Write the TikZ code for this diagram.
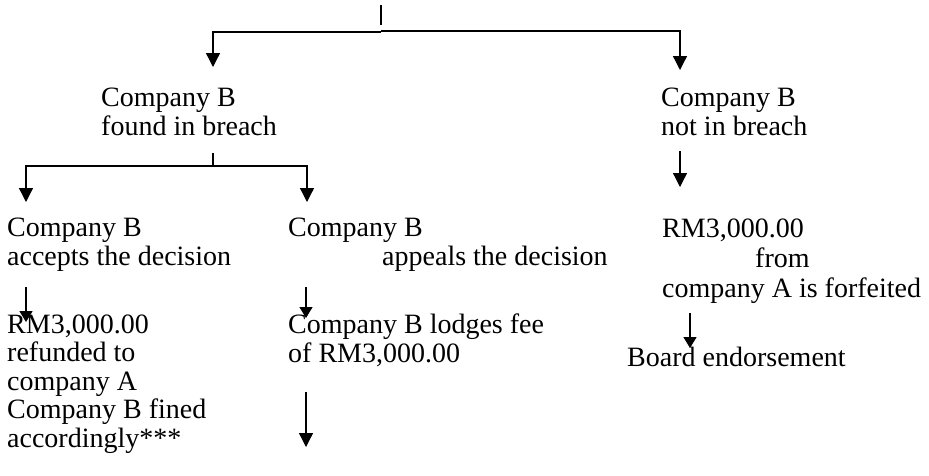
\documentclass[tikz,border=0pt]{standalone}
\usepackage{fontspec}
\setmainfont{Liberation Serif}
\usetikzlibrary{arrows.meta}
\begin{document}
\begin{tikzpicture}[x=1pt,y=-1pt,
  lbl/.style={anchor=base west, inner sep=0pt, font=\fontsize{28}{29}\selectfont},
  conn/.style={line width=1.3pt},
  arrbig/.style={conn,-{Triangle[width=14pt,length=14pt]}},
  arrsmall/.style={conn,-{Triangle[width=13pt,length=11pt]}}]
\useasboundingbox (0,0) rectangle (929,475);
% text
\node[lbl] (b1a) at (101,106) {Company B};
\node[lbl] (b1b) at (101,135) {found in breach};
\node[lbl] (n1a) at (661,106) {Company B};
\node[lbl] (n1b) at (661,135) {not in breach};
\node[lbl] (acA) at (7,236) {Company B};
\node[lbl] (acB) at (7,265) {accepts the decision};
\node[lbl] (apA) at (288,236) {Company B};
\node[lbl] (apB) at (382,265) {appeals the decision};
\node[lbl] (fA) at (662,237) {RM3,000.00};
\node[lbl] (fB) at (755,267) {from};
\node[lbl] (fC) at (662,297) {company A is forfeited};
\node[lbl] (rA) at (7,333) {RM3,000.00};
\node[lbl] (rB) at (7,361) {refunded to};
\node[lbl] (rC) at (7,390) {company A};
\node[lbl] (rD) at (7,418) {Company B fined};
\node[lbl] (rE) at (7,447) {accordingly***};
\node[lbl] (lA) at (288,333) {Company B lodges fee};
\node[lbl] (lB) at (288,362) {of RM3,000.00};
\node[lbl] (bd) at (627,366) {Board endorsement};
% coordinates
\coordinate (t0) at (381,5);
\coordinate (t1) at (381,25);
\coordinate (tl) at (381,32);
\coordinate (tr) at (381,31);
\coordinate (tlc) at (213,32);
\coordinate (tle) at (213,67);
\coordinate (trc) at (680,31);
\coordinate (tre) at (680,70);
\coordinate (f0) at (213,153);
\coordinate (f1) at (213,166);
\coordinate (fl) at (26,166);
\coordinate (fle) at (26,202);
\coordinate (fr) at (307,166);
\coordinate (fre) at (307,202);
\coordinate (nb0) at (680,151);
\coordinate (nb1) at (680,187);
\coordinate (ac0) at (26,287);
\coordinate (ac1) at (26,322);
\coordinate (ap0) at (306,287);
\coordinate (ap1) at (306,318);
\coordinate (lg0) at (306,392);
\coordinate (lg1) at (306,447);
\coordinate (ff0) at (690,313);
\coordinate (ff1) at (690,348);
% connectors
\draw[conn] (t0) -- (t1);
\draw[arrbig] (tl) -- (tlc) -- (tle);
\draw[arrbig] (tr) -- (trc) -- (tre);
\draw[conn] (f0) -- (f1);
\draw[arrbig] (f1) -- (fl) -- (fle);
\draw[arrbig] (f1) -- (fr) -- (fre);
\draw[arrbig] (nb0) -- (nb1);
\draw[arrsmall] (ac0) -- (ac1);
\draw[arrsmall] (ap0) -- (ap1);
\draw[arrbig] (lg0) -- (lg1);
\draw[arrsmall] (ff0) -- (ff1);
\end{tikzpicture}
\end{document}
